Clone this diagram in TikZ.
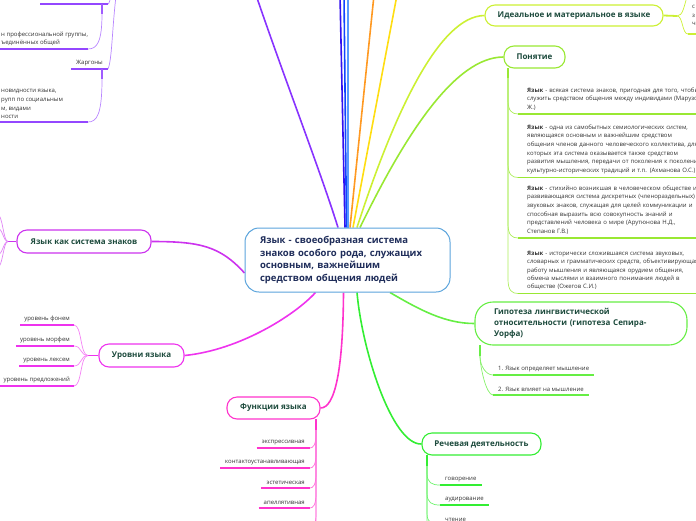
\documentclass[tikz,border=0pt]{standalone}
\usepackage{fontspec}
\setmainfont{Open Sans}
\usetikzlibrary{backgrounds}
\definecolor{ctext}{HTML}{1F2D5A}
\definecolor{cborder}{HTML}{5BA4DC}
\definecolor{ttext}{HTML}{1C4A3C}
\definecolor{ltext}{HTML}{333333}
\definecolor{cpurple}{HTML}{8833FF}
\definecolor{cvblue}{HTML}{3311EE}
\definecolor{cblue}{HTML}{1144FF}
\definecolor{clblue}{HTML}{5599FF}
\definecolor{corange}{HTML}{FF9922}
\definecolor{cyellow}{HTML}{FFDD11}
\definecolor{clime}{HTML}{CCF033}
\definecolor{cgreen}{HTML}{99E833}
\definecolor{chyp}{HTML}{66EE44}
\definecolor{cspeech}{HTML}{33EE33}
\definecolor{cfunc}{HTML}{FF33CC}
\definecolor{clev}{HTML}{EE33EE}
\definecolor{csys}{HTML}{CC33EE}
\begin{document}
\begin{tikzpicture}[x=1pt,y=-1pt,
  central/.style={draw=cborder, fill=white, rounded corners=14pt, line width=1pt, align=left,
    font=\fontsize{9.5}{12.4}\selectfont\bfseries, text=ctext, inner ysep=0pt},
  topic/.style={draw, fill=white, rounded corners=10pt, line width=1.1pt, inner sep=0pt,
    font=\fontsize{8}{11}\selectfont\bfseries, text=ttext, minimum height=22pt},
  leaf/.style={font=\fontsize{6}{8.6}\selectfont, text=ltext, inner xsep=5pt, inner ysep=3pt},
  defn/.style={font=\fontsize{6}{8.6}\selectfont, text=ltext, inner xsep=9pt, inner ysep=3.5pt,
    align=left, text width=200pt},
  conn/.style={line width=1.6pt},
  sub/.style={line width=0.7pt},
  stem/.style={line width=1.8pt},
  uline/.style={line width=1.8pt}]
\useasboundingbox (0,0) rectangle (696,520);
\clip (0,0) rectangle (696,520);

% central
\node[central, minimum width=205pt, minimum height=64pt, text width=175pt, inner xsep=15pt] (c) at (347.5,260)
  {Язык - своеобразная система\\знаков особого рода, служащих\\основным, важнейшим\\средством общения людей};

% topics
\node[topic, draw=clime, minimum width=178pt, minimum height=21pt] (ideal) at (574,15.5) {Идеальное и материальное в языке};
\node[topic, draw=cgreen, minimum width=61pt] (pon) at (534.5,57) {Понятие};
\node[topic, draw=chyp, minimum width=212pt, minimum height=43pt, rounded corners=18pt, align=left,
  text width=174pt, inner xsep=19pt] (hyp) at (581,323.5)
  {Гипотеза лингвистической\\относительности (гипотеза Сепира-\\Уорфа)};
\node[topic, draw=cspeech, minimum width=119pt] (speech) at (481.5,444) {Речевая деятельность};
\node[topic, draw=cfunc, minimum width=93pt] (func) at (273.5,408) {Функции языка};
\node[topic, draw=clev, minimum width=85pt, minimum height=23pt] (lev) at (141.5,355.5) {Уровни языка};
\node[topic, draw=csys, minimum width=134pt, minimum height=23pt] (sys) at (84,241.5) {Язык как система знаков};

% off-screen targets
\coordinate (pur) at (256,-5);
\coordinate (bl1) at (340,-5);
\coordinate (bl2) at (344,-5);
\coordinate (bl3) at (348,-5);
\coordinate (ora) at (374,-5);
\coordinate (yel) at (397,-5);

% ideal child (cut at right edge)
\node[anchor=north west, inner sep=0pt, align=left, font=\fontsize{6}{8.6}\selectfont, text=ltext] (idc) at (692,5) {с\\з\\ч};
\coordinate (ir0) at (677,16);
\coordinate (irup) at (687,-3);
\coordinate (irdn) at (688,34);
\coordinate (irend) at (700,34);

% definitions of "Понятие"
\node[defn, anchor=south west] (d1) at (518,114)
  {\textbf{Язык} - всякая система знаков, пригодная для того, чтобы\\служить средством общения между индивидами (Марузо\\Ж.)};
\node[defn, anchor=south west] (d2) at (518,177.5)
  {\textbf{Язык} - одна из самобытных семиологических систем,\\являющаяся основным и важнейшим средством\\общения членов данного человеческого коллектива, для\\которых эта система оказывается также средством\\развития мышления, передачи от поколения к поколению\\культурно-исторических традиций и т.п. (Ахманова О.С.)};
\node[defn, anchor=south west] (d3) at (518,238)
  {\textbf{Язык} - стихийно возникшая в человеческом обществе и\\развивающаяся система дискретных (членораздельных)\\звуковых знаков, служащая для целей коммуникации и\\способная выразить всю совокупность знаний и\\представлений человека о мире (Арутюнова Н.Д.,\\Степанов Г.В.)};
\node[defn, anchor=south west, font=\fontsize{6}{8.3}\selectfont] (d4) at (518,293.5)
  {\textbf{Язык} - исторически сложившаяся система звуковых,\\словарных и грамматических средств, объективирующая\\работу мышления и являющаяся орудием общения,\\обмена мыслями и взаимного понимания людей в\\обществе (Ожегов С.И.)};
\coordinate (p0) at (508,68);
\coordinate (p1) at (508,78);

% hypothesis children
\node[leaf, anchor=south west] (h1) at (493,375) {1. Язык определяет мышление};
\node[leaf, anchor=south west] (h2) at (493,395) {2. Язык влияет на мышление};
\coordinate (h0) at (480,345);
\coordinate (h01) at (480,356);

% speech children
\node[leaf, anchor=south west] (s1) at (440,485) {говорение};
\node[leaf, anchor=south west] (s2) at (440,505) {аудирование};
\node[leaf, anchor=south west] (s3) at (440,525) {чтение};
\coordinate (s0) at (427,455);
\coordinate (s01) at (427,466);
\coordinate (s4) at (440,545);

% function children
\node[leaf, anchor=south east] (f1) at (310,448) {экспрессивная};
\node[leaf, anchor=south east] (f2) at (310,468) {контактоустанавливающая};
\node[leaf, anchor=south east] (f3) at (310,488) {эстетическая};
\node[leaf, anchor=south east] (f4) at (310,508) {апеллятивная};
\coordinate (f0) at (316,419);
\coordinate (f01) at (316,430);
\coordinate (f5) at (310,528);
\coordinate (f6) at (310,548);

% level children
\node[leaf, anchor=south east, inner xsep=4pt] (l1) at (74,325) {уровень фонем};
\node[leaf, anchor=south east, inner xsep=4pt] (l2) at (74,346) {уровень морфем};
\node[leaf, anchor=south east, inner xsep=4pt] (l3) at (74,366) {уровень лексем};
\node[leaf, anchor=south east, inner xsep=4pt] (l4) at (74,386) {уровень предложений};
\coordinate (l0) at (88,355.5);

% system-of-signs children (off-screen)
\coordinate (y0) at (8,241.5);
\coordinate (y1) at (-3,214);
\coordinate (y2) at (-3,228);
\coordinate (y3) at (-3,255);
\coordinate (y4) at (-3,268);

% top-left children (cut at left/top)
\coordinate (t0a) at (40,4);
\coordinate (t0b) at (108,4);
\coordinate (t0v) at (102,4);
\coordinate (t0w) at (102,14);
\coordinate (ptop) at (116,-4);
\coordinate (ptop2) at (111,-4);
\node[leaf, anchor=south west, align=left] (ta) at (-4,49)
  {н профессиональной группы,\\ъединённых общей};
\coordinate (taL) at (-2,49);
\coordinate (taR) at (88,49);
\node[leaf, anchor=south east] (jar) at (108,69) {Жаргоны};
\coordinate (jv) at (102,69);
\coordinate (jw) at (102,79);
\node[leaf, anchor=south west, align=left] (tb) at (-4,122)
  {новидности языка,\\рупп по социальным\\м, видами\\ности};
\coordinate (tbL) at (-2,122);
\coordinate (tbR) at (88,122);

\begin{pgfonlayer}{background}
\clip (0,0) rectangle (696,520);
% main connectors
\draw[conn, cpurple] ([xshift=-9.5pt]c.north) .. controls (320,170) and (285,80) .. (pur);
\draw[conn, cvblue] ([xshift=-2.5pt]c.north) -- (bl1);
\draw[conn, cblue] ([xshift=-1pt]c.north) -- (bl2);
\draw[conn, clblue] ([xshift=0.5pt]c.north) -- (bl3);
\draw[conn, corange] ([xshift=2.5pt]c.north) -- (ora);
\draw[conn, cyellow] ([xshift=5.5pt]c.north) -- (yel);
\draw[conn, clime] ([xshift=9.5pt]c.north) .. controls (395,110) and (440,16) .. (ideal.west);
\draw[conn, cgreen] ([xshift=12.5pt]c.north) .. controls (405,135) and (455,57) .. (pon.west);
\draw[conn, csys] (sys.east) .. controls (200,241.5) and (220,246) .. ([yshift=-13pt]c.west);
\draw[conn, clev] ([xshift=-32pt]c.south) .. controls (295,315) and (240,350) .. (lev.east);
\draw[conn, cfunc] ([xshift=-4pt]c.south) .. controls (343,370) and (335,408) .. (func.east);
\draw[conn, cspeech] ([xshift=9.5pt]c.south) .. controls (362,350) and (392,445) .. (speech.west);
\draw[conn, chyp] ([xshift=42.5pt]c.south) .. controls (420,310) and (445,323.5) .. (hyp.west);

% ideal child
\draw[stem, clime] (ideal.east) -- (ir0);
\draw[sub, clime] (ir0) .. controls (683,16) and (684,6) .. (irup);
\draw[sub, clime] (ir0) .. controls (683,16) and (682,34) .. (irdn);
\draw[uline, clime] (irdn) -- (irend);

% ponyatie children
\draw[stem, cgreen] (p0) -- (p1);
\foreach \d in {d1,d2,d3,d4}{
  \draw[sub, cgreen!80] (p1) |- ([xshift=-10pt,yshift=14pt]\d.south west)
     .. controls ([xshift=-10pt,yshift=3pt]\d.south west) and ([xshift=-6pt]\d.south west) .. (\d.south west);
  \draw[uline, cgreen] (\d.south west) -- (\d.south east);
}

% hypothesis children
\draw[stem, chyp] (h0) -- (h01);
\foreach \n in {h1,h2}{
  \draw[sub, chyp!80] (h01) .. controls (480,366) and (486,0|-\n.south west) .. (\n.south west);
  \draw[uline, chyp] (\n.south west) -- (\n.south east);
}

% speech children
\draw[stem, cspeech] (s0) -- (s01);
\foreach \n in {s1,s2,s3}{
  \draw[sub, cspeech!70] (s01) |- ([xshift=-13pt,yshift=12pt]\n.south west)
     .. controls ([xshift=-13pt,yshift=2pt]\n.south west) and ([xshift=-8pt]\n.south west) .. (\n.south west);
  \draw[uline, cspeech] (\n.south west) -- (\n.south east);
}
\draw[sub, cspeech!70] (s01) |- ([xshift=-13pt,yshift=12pt]s4) .. controls ([xshift=-13pt,yshift=2pt]s4) and ([xshift=-8pt]s4) .. (s4);

% function children
\draw[stem, cfunc] (f0) -- (f01);
\foreach \n in {f1,f2,f3,f4}{
  \draw[sub, cfunc!70] (f01) |- ([xshift=6pt,yshift=14pt]\n.south east)
     .. controls ([xshift=6pt,yshift=3pt]\n.south east) and ([xshift=3pt]\n.south east) .. (\n.south east);
  \draw[uline, cfunc] (\n.south west) -- (\n.south east);
}
\draw[sub, cfunc!70] (f01) |- ([xshift=6pt,yshift=14pt]f5) .. controls ([xshift=6pt,yshift=3pt]f5) and ([xshift=3pt]f5) .. (f5);
\draw[sub, cfunc!70] (f01) |- ([xshift=6pt,yshift=14pt]f6) .. controls ([xshift=6pt,yshift=3pt]f6) and ([xshift=3pt]f6) .. (f6);

% level children
\draw[stem, clev] (lev.west) -- (l0);
\foreach \n in {l1,l2,l3,l4}{
  \draw[sub, clev!60] (l0) .. controls (80,355.5) and (82,0|-\n.south east) .. (\n.south east);
  \draw[uline, clev] (\n.south west) -- (\n.south east);
}

% system-of-signs fan
\draw[stem, csys] (sys.west) -- (y0);
\foreach \n in {y1,y2,y3,y4}{
  \draw[sub, csys!60] (y0) .. controls (3,241.5) and (3,0|-\n) .. (\n);
}

% top-left
\draw[uline, cpurple!90] (t0a) -- (t0b);
\draw[sub, cpurple!60] (ptop2) .. controls (110,0) and (109,4) .. (t0b);
\draw[sub, cpurple!60] (ptop) .. controls (112,30) and (112,60) .. (jar.south east);
\draw[stem, cpurple!80] (t0v) -- (t0w);
\draw[sub, cpurple!60] (t0w) .. controls (102,42) and (97,49) .. (taR);
\draw[uline, cpurple!90] (taL) -- (taR);
\draw[uline, cpurple!90] (jar.south west) -- (jar.south east);
\draw[stem, cpurple!80] (jv) -- (jw);
\draw[sub, cpurple!60] (jw) .. controls (102,114) and (97,122) .. (tbR);
\draw[uline, cpurple!90] (tbL) -- (tbR);
\end{pgfonlayer}
\end{tikzpicture}
\end{document}
